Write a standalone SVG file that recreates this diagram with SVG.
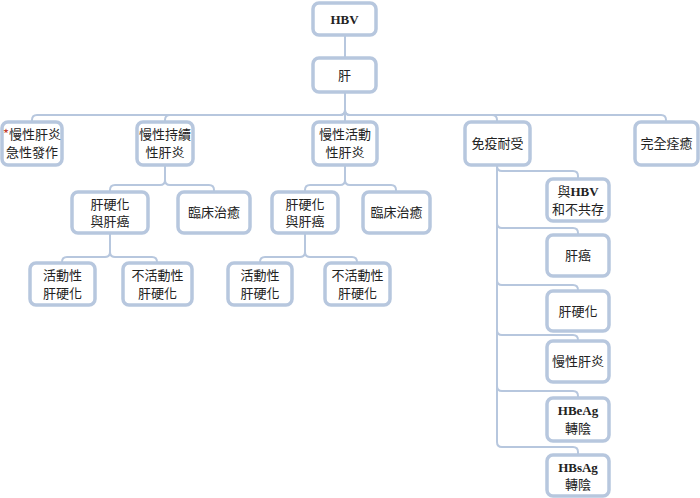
<svg xmlns="http://www.w3.org/2000/svg" width="700" height="498" viewBox="0 0 700 498">
<style>
.box{fill:#fff;stroke:#b7c7de;stroke-width:3.5}
.c{fill:none;stroke:#b7c7de;stroke-width:2}
text{font-family:"Noto Sans CJK TC","Noto Sans CJK SC",sans-serif;font-size:13px;fill:#222;text-anchor:middle}
.en{font-family:"Liberation Serif",serif;font-weight:bold;font-size:13px}
.red{fill:#c0392b}
</style>
<rect width="700" height="498" fill="#fff"/>
<g id="connectors">
<path class="c" d="M345,35 V58"/>
<path class="c" d="M345,92 V110 Q345,115 340,115 H37 Q32,115 32,120 V122"/>
<path class="c" d="M345,92 V110 Q345,115 340,115 H170 Q165,115 165,120 V122"/>
<path class="c" d="M345,92 V122"/>
<path class="c" d="M345,92 V110 Q345,115 350,115 H492 Q497,115 497,120 V122"/>
<path class="c" d="M345,92 V110 Q345,115 350,115 H661 Q666,115 666,120 V122"/>
<path class="c" d="M165,165 V180 Q165,185 160,185 H115 Q110,185 110,190 V192"/>
<path class="c" d="M165,165 V180 Q165,185 170,185 H209 Q214,185 214,190 V192"/>
<path class="c" d="M345,165 V180 Q345,185 340,185 H310 Q305,185 305,190 V192"/>
<path class="c" d="M345,165 V180 Q345,185 350,185 H391 Q396,185 396,190 V192"/>
<path class="c" d="M110,233 V252 Q110,257 105,257 H67 Q62,257 62,262 V263"/>
<path class="c" d="M110,233 V252 Q110,257 115,257 H152 Q157,257 157,262 V263"/>
<path class="c" d="M305,233 V252 Q305,257 300,257 H265 Q260,257 260,262 V263"/>
<path class="c" d="M305,233 V252 Q305,257 310,257 H352 Q357,257 357,262 V263"/>
<path class="c" d="M497,165 V166 Q497,171 502,171 H573 Q578,171 578,176 V179"/>
<path class="c" d="M497,165 V223 Q497,228 502,228 H573 Q578,228 578,233 V235"/>
<path class="c" d="M497,165 V280 Q497,285 502,285 H573 Q578,285 578,290 V291"/>
<path class="c" d="M497,165 V330 Q497,335 502,335 H573 Q578,335 578,340 V341"/>
<path class="c" d="M497,165 V386 Q497,391 502,391 H573 Q578,391 578,396 V398"/>
<path class="c" d="M497,165 V442 Q497,447 502,447 H573 Q578,447 578,452 V455"/>
</g>
<g id="n_hbv"><rect class="box" x="313" y="3" width="63" height="32" rx="6"/><text class="en" x="344.5" y="24">HBV</text></g>
<g id="n_liver"><rect class="box" x="313" y="58" width="63" height="34" rx="6"/><text x="344.5" y="80">肝</text></g>
<g id="n_acute"><rect class="box" x="2" y="122" width="60" height="43" rx="6"/><text x="32" y="139"><tspan class="red">*</tspan>慢性肝炎</text><text x="32" y="157">急性發作</text></g>
<g id="n_cph"><rect class="box" x="137" y="122" width="56" height="43" rx="6"/><text x="165" y="139">慢性持續</text><text x="165" y="157">性肝炎</text></g>
<g id="n_cah"><rect class="box" x="313" y="122" width="64" height="43" rx="6"/><text x="345" y="139">慢性活動</text><text x="345" y="157">性肝炎</text></g>
<g id="n_it"><rect class="box" x="465" y="122" width="65" height="43" rx="6"/><text x="497.5" y="148">免疫耐受</text></g>
<g id="n_cure"><rect class="box" x="635" y="122" width="63" height="43" rx="6"/><text x="666.5" y="148">完全痊癒</text></g>
<g id="n_cirr1"><rect class="box" x="72" y="192" width="76" height="41" rx="6"/><text x="110" y="208.5">肝硬化</text><text x="110" y="226">與肝癌</text></g>
<g id="n_cure1"><rect class="box" x="178" y="192" width="72" height="41" rx="6"/><text x="214" y="217">臨床治癒</text></g>
<g id="n_cirr2"><rect class="box" x="272" y="192" width="66" height="41" rx="6"/><text x="305" y="208.5">肝硬化</text><text x="305" y="226">與肝癌</text></g>
<g id="n_cure2"><rect class="box" x="363" y="192" width="67" height="41" rx="6"/><text x="396.5" y="217">臨床治癒</text></g>
<g id="n_act1"><rect class="box" x="30" y="263" width="65" height="42" rx="6"/><text x="62.5" y="280">活動性</text><text x="62.5" y="297.5">肝硬化</text></g>
<g id="n_inact1"><rect class="box" x="123" y="263" width="69" height="42" rx="6"/><text x="157.5" y="280">不活動性</text><text x="157.5" y="297.5">肝硬化</text></g>
<g id="n_act2"><rect class="box" x="228" y="263" width="64" height="42" rx="6"/><text x="260" y="280">活動性</text><text x="260" y="297.5">肝硬化</text></g>
<g id="n_inact2"><rect class="box" x="325" y="263" width="65" height="42" rx="6"/><text x="357.5" y="280">不活動性</text><text x="357.5" y="297.5">肝硬化</text></g>
<g id="n_coexist"><rect class="box" x="547" y="179" width="62" height="42" rx="6"/><text x="578" y="196">與<tspan class="en">HBV</tspan></text><text x="578" y="214">和不共存</text></g>
<g id="n_hcc"><rect class="box" x="547" y="235" width="62" height="41" rx="6"/><text x="578" y="260">肝癌</text></g>
<g id="n_cirr3"><rect class="box" x="547" y="291" width="62" height="40" rx="6"/><text x="578" y="315.5">肝硬化</text></g>
<g id="n_chb"><rect class="box" x="547" y="341" width="62" height="41" rx="6"/><text x="578" y="366">慢性肝炎</text></g>
<g id="n_hbeag"><rect class="box" x="547" y="398" width="62" height="43" rx="6"/><text x="578" y="415" class="en">HBeAg</text><text x="578" y="433">轉陰</text></g>
<g id="n_hbsag"><rect class="box" x="547" y="455" width="62" height="41" rx="6"/><text x="578" y="471.5" class="en">HBsAg</text><text x="578" y="489">轉陰</text></g>
</svg>
